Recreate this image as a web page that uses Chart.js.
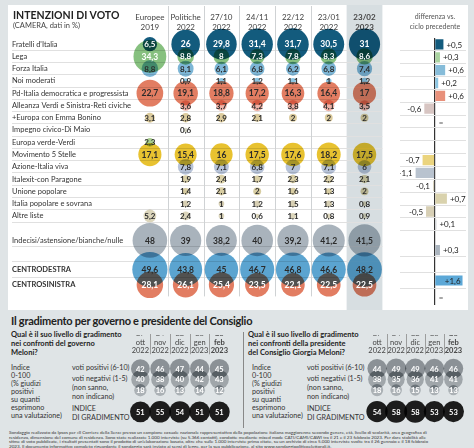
<!DOCTYPE html>
<html>
<head>
<meta charset="utf-8">
<script src="https://cdn.jsdelivr.net/npm/chart.js@4.4.1/dist/chart.umd.min.js"></script>
<style>
  body { margin: 0; width: 474px; height: 448px; background: #dfe4e6; position: relative; overflow: hidden; font-family: Lato, Roboto, sans-serif; color: #222; }
  #panel { position: absolute; left: 8px; top: 5px; width: 460px; height: 305px; background: #fff; }
  canvas { position: absolute; }
  .t { position: absolute; white-space: nowrap; }
</style>
</head>
<body>
<div id="panel"></div>
<canvas id="votes" width="400" height="310" style="left:0;top:0"></canvas>
<canvas id="diff" width="74" height="310" style="left:400px;top:0"></canvas>

<div class="t" style="left:13px;top:9px;font-weight:bold;font-size:10.5px">INTENZIONI DI VOTO</div>
<div class="t" style="left:13px;top:21px;font-size:7.5px;color:#444">(CAMERA, dati in %)</div>
<div class="t" style="left:404px;top:12px;width:62px;text-align:center;font-size:7px;line-height:9.5px;color:#555">differenza vs.<br>ciclo precedente</div>

<div class="t" style="left:11px;top:314px;font-weight:bold;font-size:11px;letter-spacing:-0.25px">Il gradimento per governo e presidente del Consiglio</div>
<div class="t" style="left:11px;top:330px;font-weight:bold;font-size:7.5px;line-height:9px">Qual è il suo livello di gradimento<br>nei confronti del governo<br>Meloni?</div>
<div class="t" style="left:248px;top:330px;font-weight:bold;font-size:7.5px;line-height:9px">Qual è il suo livello di gradimento<br>nei confronti della presidente<br>del Consiglio Giorgia Meloni?</div>
<div style="position:absolute;left:243px;top:332px;width:1px;height:96px;background:#888"></div>

<div class="t" style="left:11px;top:364px;font-size:7.2px;line-height:8px;color:#333">Indice<br>0-100<br>(% giudizi<br>positivi<br>su quanti<br>esprimono<br>una valutazione)</div>
<div class="t" style="left:72px;top:364px;font-size:7.2px;line-height:8px;color:#333">voti positivi (6-10)</div>
<div class="t" style="left:72px;top:375px;font-size:7.2px;line-height:8px;color:#333">voti negativi (1-5)</div>
<div class="t" style="left:72px;top:384px;font-size:7.2px;line-height:8.5px;color:#333">(non sanno,<br>non indicano)</div>
<div class="t" style="left:72px;top:404px;font-size:7.2px;line-height:9px;color:#333">INDICE<br>DI GRADIMENTO</div>

<div class="t" style="left:252px;top:364px;font-size:7.2px;line-height:8px;color:#333">Indice<br>0-100<br>(% giudizi<br>positivi<br>su quanti<br>esprimono<br>una valutazione)</div>
<div class="t" style="left:307px;top:364px;font-size:7.2px;line-height:8px;color:#333">voti positivi (6-10)</div>
<div class="t" style="left:307px;top:375px;font-size:7.2px;line-height:8px;color:#333">voti negativi (1-5)</div>
<div class="t" style="left:307px;top:384px;font-size:7.2px;line-height:8.5px;color:#333">(non sanno,<br>non indicano)</div>
<div class="t" style="left:307px;top:404px;font-size:7.2px;line-height:9px;color:#333">INDICE<br>DI GRADIMENTO</div>

<canvas id="gov" width="240" height="100" style="left:0;top:328px"></canvas>
<canvas id="pres" width="234" height="100" style="left:240px;top:328px"></canvas>

<div class="t" style="left:9px;top:430px;font-size:4.6px;line-height:4.6px;color:#333">Sondaggio realizzato da Ipsos per «Il Corriere della Sera» presso un campione casuale nazionale rappresentativo della popolazione italiana maggiorenne secondo genere, età, livello di scolarità, area geografica di<br>residenza, dimensione del comune di residenza. Sono state realizzate 1.000 interviste (su 5.366 contatti), condotte mediante mixed mode CATI/CAMI/CAWI tra il 21 e il 23 febbraio 2023. Per dare stabilità alle<br>stime di voto pubblicate, i risultati presentati sono il prodotto di un'elaborazione basata, oltre che sulle 1.000 interviste prima citate, su un archivio di circa 5.000 interviste svolte tra il 26 gennaio e il 18 febbraio<br>2023. Il documento informativo completo riguardante il sondaggio sarà inviato ai sensi di legge, per la sua pubblicazione, al sito www.sondaggipoliticoelettorali.it.</div>

<script>
// colonne e righe
const columns = ['Europee 2019', 'Politiche 2022', '27/10 2022', '24/11 2022', '22/12 2022', '23/01 2022', '23/02 2023'];
const parties = ["Fratelli d'Italia", 'Lega', 'Forza Italia', 'Noi moderati', 'Pd-Italia democratica e progressista',
  'Alleanza Verdi e Sinistra-Reti civiche', '+Europa con Emma Bonino', 'Impegno civico-Di Maio', 'Europa verde-Verdi',
  'Movimento 5 Stelle', 'Azione-Italia viva', 'Italexit-con Paragone', 'Unione popolare', 'Italia popolare e sovrana',
  'Altre liste', 'Indecisi/astensione/bianche/nulle', 'CENTRODESTRA', 'CENTROSINISTRA'];

// intenzioni di voto (%)
const fratelli = [6.5, 26, 29.8, 31.4, 31.7, 30.5, 31];
const lega = [34.3, 8.8, 8, 7.3, 7.8, 8.3, 8.6];
const forzaItalia = [8.8, 8.1, 6.1, 6.8, 6.2, 6.8, 7.4];
const noiModerati = [null, 0.9, 1.1, 1.2, 1.1, 1, 1.2];
const pd = [22.7, 19.1, 18.8, 17.2, 16.3, 16.4, 17];
const avs = [null, 3.6, 3.7, 4.2, 3.8, 4.1, 3.5];
const bonino = [3.1, 2.8, 2.9, 2.1, 2, 2, 2];
const impegnoCivico = [null, 0.6, null, null, null, null, null];
const europaVerde = [2.3, null, null, null, null, null, null];
const m5s = [17.1, 15.4, 16, 17.5, 17.6, 18.2, 17.5];
const azione = [null, 7.8, 7.1, 6.8, 7, 7.1, 6];
const italexit = [null, 1.9, 2.4, 1.7, 2.3, 2.2, 2.1];
const unionePopolare = [null, 1.4, 2.1, 2, 1.6, 1.3, 2];
const italiaPopolare = [null, 1.2, 1, 1.2, 1.5, 1.3, 0.8];
const altreListe = [5.2, 2.4, 1, 0.6, 1.1, 0.8, 0.9];
const indecisi = [48, 39, 38.2, 40, 39.2, 41.2, 41.5];
const centrodestra = [49.6, 43.8, 45, 46.7, 46.8, 46.6, 48.2];
const centrosinistra = [28.1, 26.1, 25.4, 23.5, 22.1, 22.5, 22.5];

// differenza vs. ciclo precedente (0 = "=")
const diffs = [0.5, 0.3, 0.6, 0.2, 0.6, -0.6, 0, null, null, -0.7, -1.1, -0.1, 0.7, -0.5, 0.1, 0.3, 1.6, 0];

// gradimento
const months = ['27 ott 2022', '24 nov 2022', '22 dic 2022', '23 gen 2023', '23 feb 2023'];
const govPositivi = [42, 46, 47, 44, 45];
const govNegativi = [40, 38, 40, 42, 43];
const govNonSanno = [18, 16, 13, 14, 12];
const govIndice = [51, 55, 54, 51, 51];
const presPositivi = [44, 49, 49, 46, 46];
const presNegativi = [38, 35, 36, 41, 41];
const presNonSanno = [18, 16, 15, 13, 13];
const presIndice = [54, 58, 58, 53, 53];

const voteSeries = [fratelli, lega, forzaItalia, noiModerati, pd, avs, bonino, impegnoCivico, europaVerde, m5s,
  azione, italexit, unionePopolare, italiaPopolare, altreListe, indecisi, centrodestra, centrosinistra];
const partyColors = ['#135b7d', '#86c07f', '#7db6d6', '#8cc6e3', '#e27d62', '#efb3a8', '#dccb9c', '#d3d3c4', '#a9cf8e',
  '#e8c230', '#b7c3d8', '#dbd1a8', '#d8cda2', '#d7cfb3', '#dcd6bc', '#a9b3bc', '#5ba4d0', '#e27d62'];
const diffColors = ['#135b7d', '#a9d3a0', '#86bcd9', '#8cc6e3', '#e8907a', '#d7c5c2', '#ccc', '#ccc', '#ccc', '#ebd47e',
  '#b9c3cf', '#d9d4c0', '#d9d2ad', '#d7cfb5', '#d2d6da', '#aab4be', '#5ca8d7', '#ccc'];
const whiteText = ["Fratelli d'Italia", 'Lega', 'CENTROSINISTRA'];
const coalitions = ['CENTRODESTRA', 'CENTROSINISTRA'];
const bigRows = ['Indecisi/astensione/bianche/nulle', 'CENTRODESTRA', 'CENTROSINISTRA'];

const FONT = 'Lato, Roboto, sans-serif';
const fmt = v => String(v).replace('.', ',');

// righe: partiti + vuoto + indecisi (asse y), poi vuoto + coalizioni (asse y2)
const topRows = [];
parties.forEach(p => {
    if (coalitions.includes(p)) return;
    if (p === 'Indecisi/astensione/bianche/nulle') topRows.push('');
    topRows.push(p);
});
const bottomRows = [' '].concat(coalitions);

const gridTop = ctx => [0, topRows.length - 1, topRows.length].includes(ctx.index) ? 'transparent' : '#e0e0e0';
const gridBottom = ctx => [1, 2].includes(ctx.index) ? '#e0e0e0' : 'transparent';

const rowAxis = (labels, weight, color, showTicks) => ({
    type: 'category',
    labels: labels,
    offset: true,
    position: 'left',
    stack: 'rows',
    stackWeight: weight,
    grid: { offset: true, color: color, tickLength: showTicks ? 120 : 0, drawTicks: showTicks, tickColor: color },
    border: { display: false },
    ticks: showTicks ? {
        autoSkip: false,
        crossAlign: 'far',
        color: '#333',
        font: ctx => ({ family: FONT, size: 7.5, weight: String(labels[ctx.index]).startsWith('CENTRO') ? 'bold' : 'normal' })
    } : { display: false },
    afterFit: s => { s.width = showTicks ? 120 : 0; }
});

const bubbleSets = parties.map((p, i) => ({
    label: p,
    data: voteSeries[i].map((v, j) => v == null ? null :
        { x: columns[j], y: p, r: (bigRows.includes(p) ? 2.5 : 2.8) * Math.sqrt(v), v: v }).filter(Boolean),
    yAxisID: coalitions.includes(p) ? 'y2' : 'y',
    backgroundColor: partyColors[i],
    borderWidth: 0,
    hoverBorderWidth: 0,
    clip: false,
    textColor: whiteText.includes(p) ? '#fff' : '#2b2b2b'
}));

// sfondo colonna evidenziata, separatori, multiply, etichette
const votesPlugin = {
    id: 'votesPlugin',
    beforeDraw(chart) {
        const ctx = chart.ctx, xs = chart.scales.x;
        const w = xs.getPixelForValue(1) - xs.getPixelForValue(0);
        const cx = xs.getPixelForValue(columns.length - 1);
        ctx.save();
        ctx.fillStyle = '#d7dee1';
        ctx.fillRect(cx - w / 2, 5, w, 305);
        ctx.restore();
    },
    beforeDatasetsDraw(chart) {
        const ctx = chart.ctx, xs = chart.scales.x;
        ctx.save();
        ctx.strokeStyle = '#cfd2d4';
        ctx.lineWidth = 1;
        for (let i = 1; i < columns.length - 1; i++) {
            const x = Math.round((xs.getPixelForValue(i - 1) + xs.getPixelForValue(i)) / 2) + 0.5;
            ctx.beginPath();
            ctx.moveTo(x, 6);
            ctx.lineTo(x, chart.chartArea.bottom + 4);
            ctx.stroke();
        }
        ctx.restore();
        ctx.save();
        ctx.globalCompositeOperation = 'multiply';
    },
    afterDatasetsDraw(chart) {
        const ctx = chart.ctx;
        ctx.restore();
        ctx.save();
        ctx.textAlign = 'center';
        ctx.textBaseline = 'middle';
        chart.data.datasets.forEach((ds, i) => {
            chart.getDatasetMeta(i).data.forEach((el, j) => {
                const v = ds.data[j].v;
                ctx.font = 'bold ' + (v >= 10 ? 8.5 : 8) + 'px ' + FONT;
                ctx.fillStyle = ds.textColor;
                ctx.fillText(fmt(v), el.x, el.y + 0.5);
            });
        });
        ctx.restore();
    }
};

new Chart(document.getElementById('votes'), {
    type: 'bubble',
    data: { datasets: bubbleSets },
    options: {
        responsive: false,
        animation: false,
        events: [],
        layout: { padding: { left: 12, top: 8, right: 0, bottom: 5.5 } },
        plugins: { legend: { display: false }, tooltip: { enabled: false } },
        scales: {
            x: {
                type: 'category',
                labels: columns,
                position: 'top',
                offset: true,
                grid: { display: false, drawTicks: false },
                border: { display: false },
                ticks: {
                    autoSkip: false,
                    maxRotation: 0,
                    padding: 6,
                    color: '#444',
                    font: ctx => ({ family: FONT, size: 8, lineHeight: 1.2, weight: ctx.index === columns.length - 1 ? 'bold' : 'normal' }),
                    callback: function (value) { return this.getLabelForValue(value).split(' '); }
                },
                afterFit: s => { s.height = 30; }
            },
            // l'asse impilato dichiarato per ultimo finisce in alto
            y2: rowAxis(bottomRows, 48, gridBottom, true),
            y: rowAxis(topRows, 218.5, gridTop, true)
        }
    },
    plugins: [votesPlugin]
});

// barre differenza
const diffFor = rows => rows.map(r => { const i = parties.indexOf(r); return i < 0 ? null : diffs[i]; });
const colorFor = rows => rows.map(r => { const i = parties.indexOf(r); return i < 0 ? '#ccc' : diffColors[i]; });

const diffLabels = {
    id: 'diffLabels',
    afterDatasetsDraw(chart) {
        const ctx = chart.ctx;
        ctx.save();
        ctx.font = '8px ' + FONT;
        ctx.textBaseline = 'middle';
        chart.data.datasets.forEach((ds, d) => {
            chart.getDatasetMeta(d).data.forEach((el, i) => {
                const v = ds.data[i];
                if (v == null) return;
                ctx.fillStyle = '#222';
                if (v === 0) {
                    ctx.textAlign = 'left';
                    ctx.fillStyle = '#555';
                    ctx.fillText('=', el.base + 4, el.y + 0.5);
                    return;
                }
                const txt = (v > 0 ? '+' : '') + fmt(v);
                const tw = ctx.measureText(txt).width;
                if (v > 0) {
                    if (el.x + 3 + tw > chart.width - 1) {
                        ctx.textAlign = 'right';
                        ctx.fillText(txt, el.x - 2, el.y + 0.5);
                    } else {
                        ctx.textAlign = 'left';
                        ctx.fillText(txt, el.x + 3, el.y + 0.5);
                    }
                } else {
                    ctx.textAlign = 'right';
                    ctx.fillText(txt, el.x - 3, el.y + 0.5);
                }
            });
        });
        ctx.restore();
    }
};

new Chart(document.getElementById('diff'), {
    type: 'bar',
    data: {
        datasets: [
            { data: diffFor(topRows), backgroundColor: colorFor(topRows), yAxisID: 'y', borderWidth: 0, barPercentage: 0.8, categoryPercentage: 1, grouped: false },
            { data: diffFor(bottomRows), backgroundColor: colorFor(bottomRows), yAxisID: 'y2', borderWidth: 0, barPercentage: 0.62, categoryPercentage: 1, grouped: false }
        ]
    },
    options: {
        indexAxis: 'y',
        responsive: false,
        animation: false,
        events: [],
        layout: { padding: { left: 0, top: 38, right: 8, bottom: 5.5 } },
        plugins: { legend: { display: false }, tooltip: { enabled: false } },
        scales: {
            x: {
                type: 'linear',
                min: -2,
                max: 1.8,
                ticks: { display: false, stepSize: 1 },
                grid: { drawTicks: false, color: ctx => ctx.tick && ctx.tick.value === 0 ? '#333' : 'transparent', lineWidth: 1.2 },
                border: { display: false },
                afterFit: s => { s.height = 0; }
            },
            y2: rowAxis(bottomRows, 48, gridBottom, false),
            y: rowAxis(topRows, 218.5, gridTop, false)
        }
    },
    plugins: [diffLabels]
});

// gradimento: due grafici a bolle
const approvalRows = ['voti positivi', 'voti negativi', 'non sanno', '', 'indice'];
const approvalColors = ['#8b9196', '#a0a6aa', '#abb1b5', '#1c1c1c'];
const KA = 1.45;

const headerLines = {
    id: 'headerLines',
    beforeDatasetsDraw(chart) {
        const ctx = chart.ctx, xs = chart.scales.x;
        ctx.save();
        ctx.strokeStyle = '#8a8a8a';
        ctx.lineWidth = 0.8;
        for (let i = 1; i < months.length; i++) {
            const x = Math.round((xs.getPixelForValue(i - 1) + xs.getPixelForValue(i)) / 2) + 0.5;
            ctx.beginPath();
            ctx.moveTo(x, 6);
            ctx.lineTo(x, chart.chartArea.top - 9);
            ctx.stroke();
        }
        ctx.restore();
        ctx.save();
        ctx.globalCompositeOperation = 'multiply';
    },
    afterDatasetsDraw(chart) {
        const ctx = chart.ctx;
        ctx.restore();
        ctx.save();
        ctx.textAlign = 'center';
        ctx.textBaseline = 'middle';
        ctx.fillStyle = '#fff';
        ctx.font = 'bold 7.5px ' + FONT;
        chart.data.datasets.forEach((ds, i) => {
            chart.getDatasetMeta(i).data.forEach((el, j) => {
                ctx.fillText(String(ds.data[j].v), el.x, el.y + 0.5);
            });
        });
        ctx.restore();
    }
};

function approvalChart(id, series, padLeft, padRight) {
    const rows = [approvalRows[0], approvalRows[1], approvalRows[2], approvalRows[4]];
    const datasets = series.map((s, i) => ({
        data: s.map((v, j) => ({ x: months[j], y: rows[i], r: KA * Math.sqrt(v), v: v })),
        backgroundColor: approvalColors[i],
        borderWidth: 0,
        clip: false
    }));
    new Chart(document.getElementById(id), {
        type: 'bubble',
        data: { datasets: datasets },
        options: {
            responsive: false,
            animation: false,
            events: [],
            layout: { padding: { left: padLeft, right: padRight, top: 7.25, bottom: 7.25 } },
            plugins: { legend: { display: false }, tooltip: { enabled: false } },
            scales: {
                x: {
                    type: 'category',
                    labels: months,
                    position: 'top',
                    offset: true,
                    grid: { display: false, drawTicks: false },
                    border: { display: false },
                    ticks: {
                        autoSkip: false,
                        maxRotation: 0,
                        padding: 8,
                        color: '#444',
                        font: ctx => ({ family: FONT, size: 7.5, lineHeight: 1.13, weight: ctx.index === months.length - 1 ? 'bold' : 'normal' }),
                        callback: function (value) { return this.getLabelForValue(value).split(' '); }
                    },
                    afterFit: s => { s.height = 28; }
                },
                y: { type: 'category', labels: approvalRows, offset: true, display: false }
            }
        },
        plugins: [headerLines]
    });
}

approvalChart('gov', [govPositivi, govNegativi, govNonSanno, govIndice], 130.5, 4.5);
approvalChart('pres', [presPositivi, presNegativi, presNonSanno, presIndice], 127.5, 1.5);
</script>
</body>
</html>
